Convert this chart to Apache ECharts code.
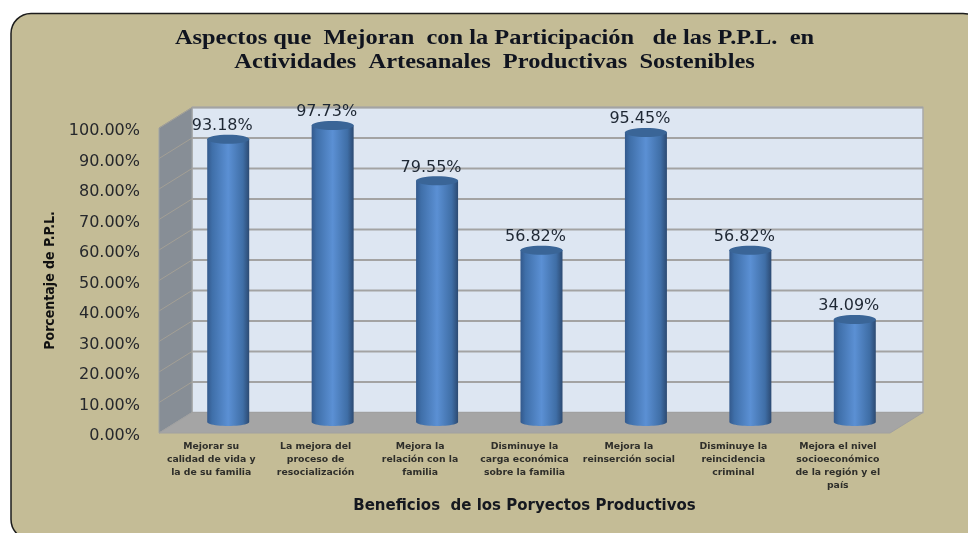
<!DOCTYPE html>
<html>
<head>
<meta charset="utf-8">
<style>html,body{margin:0;padding:0;background:#fff}#c{width:968px;height:533px}</style>
<script src="https://cdn.jsdelivr.net/npm/echarts@6/dist/echarts.min.js"></script>
</head>
<body>
<div id="c"></div>
<script>
const titleText = "Aspectos que  Mejoran  con la Participación   de las P.P.L.  en\nActividades  Artesanales  Productivas  Sostenibles";
const yAxisTitle = "Porcentaje de P.P.L.";
const xAxisTitle = "Beneficios  de los Poryectos Productivos";
const categories = [
  "Mejorar su\ncalidad de vida y\nla de su familia",
  "La mejora del\nproceso de\nresocialización",
  "Mejora la\nrelación con la\nfamilia",
  "Disminuye la\ncarga económica\nsobre la familia",
  "Mejora la\nreinserción social",
  "Disminuye la\nreincidencia\ncriminal",
  "Mejora el nivel\nsocioeconómico\nde la región y el\npaís"
];
const values = [93.18, 97.73, 79.55, 56.82, 95.45, 56.82, 34.09];
const yTicks = [0, 10, 20, 30, 40, 50, 60, 70, 80, 90, 100];

const DX = 33, DY = -20.5;   // depth of the 3D box
const BX = 17, BY = -11;     // bars stand mid-depth
const RX = 21, RY = 4, RYT = 4.5, TOP_SHIFT = 1.5;

const chart = echarts.init(document.getElementById('c'), null, {renderer: 'canvas'});
const barFill = new echarts.graphic.LinearGradient(0, 0, 1, 0, [
  {offset: 0, color: '#33598c'},
  {offset: 0.12, color: '#3f6fa9'},
  {offset: 0.5, color: '#5b90d4'},
  {offset: 0.85, color: '#3f6ea6'},
  {offset: 1, color: '#2c4a72'}
]);

function bodyPoints(cx, ty, by) {
  const pts = [[cx - RX, ty], [cx + RX, ty]];
  const n = 24;
  for (let k = 0; k <= n; k++) {
    const a = Math.PI * k / n;
    pts.push([cx + RX * Math.cos(a), by + RY * Math.sin(a)]);
  }
  return pts;
}

chart.setOption({
  animation: false,
  backgroundColor: '#ffffff',
  graphic: {
    elements: [{
      type: 'rect', z: -10,
      shape: {x: 11, y: 13.5, width: 972, height: 526, r: 20},
      style: {fill: '#c4bc96', stroke: '#1c1c1c', lineWidth: 1.5}
    }, {
      type: 'text', z: 10, x: 494.5, y: 27, scaleX: 1.11,
      style: {text: titleText, align: 'center', verticalAlign: 'top',
        fontFamily: 'Liberation Serif', fontWeight: 'bold', fontSize: 22, lineHeight: 23.5, fill: '#10141f'}
    }]
  },
  grid: {left: 159, top: 128, width: 731, height: 305},
  xAxis: {
    type: 'category',
    data: categories,
    axisLine: {show: false}, axisTick: {show: false},
    axisLabel: {interval: 0, margin: 7, fontFamily: 'DejaVu Sans', fontWeight: 'bold', fontSize: 9.3, lineHeight: 13, color: '#2e2e2a'},
    name: xAxisTitle, nameLocation: 'middle', nameGap: 66,
    nameTextStyle: {fontFamily: 'DejaVu Sans', fontWeight: 'bold', fontSize: 15, color: '#15181f'}
  },
  yAxis: {
    type: 'value', min: 0, max: 100, interval: 10,
    axisLine: {show: false}, axisTick: {show: false}, splitLine: {show: false},
    axisLabel: {margin: 19, verticalAlign: 'top', lineHeight: 6, fontFamily: 'DejaVu Sans', fontSize: 16, color: '#26282c',
      formatter: v => v.toFixed(2) + '%'},
    name: yAxisTitle, nameLocation: 'middle', nameGap: 102,
    nameTextStyle: {fontFamily: 'DejaVu Sans Condensed', fontWeight: 'bold', fontSize: 14, color: '#111'}
  },
  series: [
    {
      type: 'custom', name: 'walls', z: 1, silent: true,
      data: [0],
      renderItem(params, api) {
        const g = params.coordSys;
        const l = g.x, r = g.x + g.width, t = g.y, b = g.y + g.height;
        return {type: 'group', children: [
          {type: 'polygon', shape: {points: [[l + DX, t + DY], [r + DX, t + DY], [r + DX, b + DY], [l + DX, b + DY]]},
            style: {fill: '#dde6f2', stroke: '#a9a9a9', lineWidth: 1.5}},
          {type: 'polygon', shape: {points: [[l, t], [l + DX, t + DY], [l + DX, b + DY], [l, b]]},
            style: {fill: '#878e96', stroke: '#a0a4a6', lineWidth: 1}},
          {type: 'polygon', shape: {points: [[l, b], [r, b], [r + DX, b + DY], [l + DX, b + DY]]},
            style: {fill: '#a5a5a5', stroke: '#a0a0a0', lineWidth: 1}}
        ]};
      }
    },
    {
      type: 'custom', name: 'gridlines', z: 2, silent: true,
      encode: {y: 0},
      data: yTicks.slice(1).map(v => [v]),
      renderItem(params, api) {
        const g = params.coordSys;
        const y = api.coord([0, api.value(0)])[1];
        return {type: 'group', children: [
          {type: 'line', shape: {x1: g.x + DX, y1: y + DY, x2: g.x + g.width + DX, y2: y + DY},
            style: {stroke: '#a3a3a3', lineWidth: 2}},
          {type: 'line', shape: {x1: g.x, y1: y, x2: g.x + DX, y2: y + DY},
            style: {stroke: '#a39f95', lineWidth: 1}}
        ]};
      }
    },
    {
      type: 'custom', name: 'Porcentaje', z: 3,
      encode: {x: 0, y: 1},
      data: values.map((v, i) => [i, v]),
      renderItem(params, api) {
        const top = api.coord([api.value(0), api.value(1)]);
        const base = api.coord([api.value(0), 0]);
        const cx = top[0] + BX, ty = top[1] + BY + TOP_SHIFT, by = base[1] + BY;
        return {type: 'group', children: [
          {type: 'polygon', shape: {points: bodyPoints(cx, ty, by)}, style: {fill: barFill}},
          {type: 'ellipse', shape: {cx: cx, cy: ty, rx: RX, ry: RYT}, style: {fill: '#3a6597'}},
          {type: 'text', x: cx - 6, y: ty - 13.5, style: {
            text: api.value(1).toFixed(2) + '%', align: 'center', verticalAlign: 'middle',
            fontFamily: 'DejaVu Sans', fontSize: 16, fill: '#1e2733'}}
        ]};
      }
    }
  ]
});
</script>
</body>
</html>
